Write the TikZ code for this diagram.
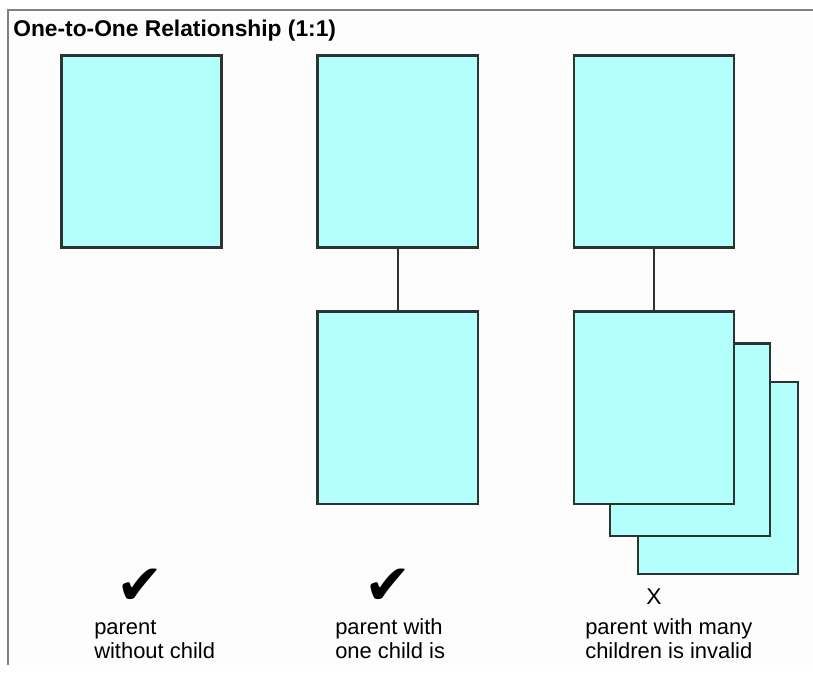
\documentclass[tikz,border=0pt]{standalone}
\usepackage{fontspec}
\setmainfont{Liberation Sans}
\newfontfamily\symbolfont{DejaVu Sans}
\usetikzlibrary{positioning}
\definecolor{boxfill}{RGB}{178,255,252}
\definecolor{boxline}{RGB}{45,50,50}
\definecolor{framegray}{RGB}{128,128,128}
\definecolor{paper}{RGB}{252,253,252}

\begin{document}
\begin{tikzpicture}[x=0.025cm, y=-0.025cm, node distance = {6.4cm},
	entity/.style = {draw=boxline, line width=1.5pt, fill=boxfill, minimum width=4cm, minimum height=4.8cm, inner sep=0pt},
	note/.style = {font=\fontsize{15.6}{16.4}\selectfont, align=left, anchor=base west, inner sep=0pt},
	okmark/.style = {font=\symbolfont\fontsize{40}{40}\selectfont, inner sep=0pt, text depth=0pt}]
	\useasboundingbox (0,0) rectangle (813,675);
	\fill[white] (0,0) rectangle (813,675);
	\fill[paper] (8,10) rectangle (813,665);
	\draw[framegray, line width=1.4pt] (8,665) -- (8,10) -- (813,10);
	\node[font=\bfseries\fontsize{16.2}{18}\selectfont, anchor=base west, inner sep=0pt] (title) at (13,37) {One-to-One Relationship (1:1)};
	% parents
	\node[entity] (p1) at (141.5,151.5) {};
	\node[entity] (p2) [right of=p1] {};
	\node[entity] (p3) [right of=p2] {};
	% children, the stack is drawn back to front
	\node[entity] (c3c) [below of=p3, xshift=1.6cm, yshift=-1.75cm] {};
	\node[entity] (c3b) [below of=p3, xshift=0.9cm, yshift=-0.8cm] {};
	\node[entity] (c2) [below of=p2] {};
	\node[entity] (c3a) [below of=p3] {};
	\draw[-, draw=boxline, line width=1.5pt] (p2) -- (c2);
	\draw[-, draw=boxline, line width=1.5pt] (p3) -- (c3a);
	% verdicts
	\node[okmark, anchor=base] (ok1) at (140,604) {✔};
	\node[okmark, anchor=base] (ok2) at (388,604) {✔};
	\node[font=\fontsize{16.2}{16}\selectfont, anchor=base, inner sep=0pt] (no3) at (654,604) {X};
	\node[note] (t1) at (94,658) {parent\\without child};
	\node[note] (t2) at (335,658) {parent with\\one child is};
	\node[note] (t3) at (585,658) {parent with many\\children is invalid};
\end{tikzpicture}
\end{document}
